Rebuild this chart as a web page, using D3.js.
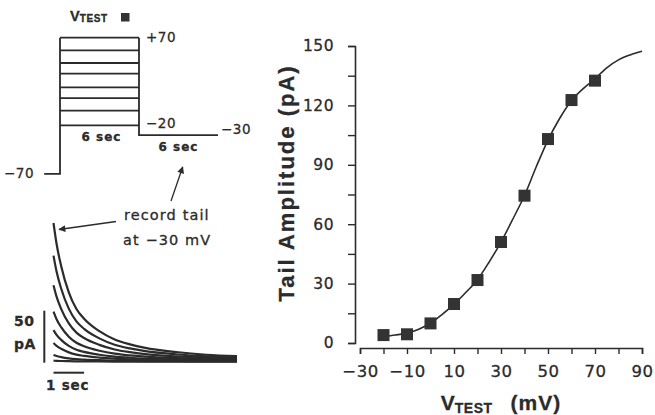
<!DOCTYPE html>
<html>
<head>
<meta charset="utf-8">
<script src="https://cdn.jsdelivr.net/npm/d3@7"></script>
<style>
  html, body { margin: 0; padding: 0; background: #fff; }
  svg { display: block; }
  text { font-family: "DejaVu Sans", "Liberation Sans", sans-serif; fill: #2b2b2b; stroke: #2b2b2b; stroke-width: 0.3px; }
</style>
</head>
<body>
<svg id="fig" width="655" height="415"></svg>
<script>
// ---- Activation curve: tail amplitude vs test potential ----
const testPotentials = [-20, -10, 0, 10, 20, 30, 40, 50, 60, 70];          // mV
const tailAmplitudes = [4.0, 4.4, 9.9, 19.7, 31.8, 51, 74.4, 103, 122.7, 132.5]; // pA

// Fitted Boltzmann curve, sampled along the test-potential axis
const fitPotentials = [-20, -15, -10, -5, 0, 5, 10, 15, 20, 25, 30, 35, 40, 45, 50, 55, 60, 65, 70, 75, 80, 85, 90];
const fitAmplitudes = [3.2, 4.0, 5.0, 7.0, 10, 14.5, 19.5, 25.5, 32, 41, 51, 62.5, 74.5, 89, 102.5, 113.5, 122.5, 128.5, 133.5, 139, 143, 145.5, 147.3];

const xTicks = [-30, -20, -10, 0, 10, 20, 30, 40, 50, 60, 70, 80, 90];
const xTickLabels = [-30, -10, 10, 30, 50, 70, 90];
const yTicks = [0, 15, 30, 45, 60, 75, 90, 105, 120, 135, 150];
const yTickLabels = [0, 30, 60, 90, 120, 150];

// ---- Voltage protocol ----
const holdingPotential = -70;   // mV
const stepLevels = [70, 57, 44, 33, 19, 8, -5, -20]; // mV, test steps drawn
const tailPotential = -30;      // mV
const stepDuration = 6;         // sec
const tailDuration = 6;         // sec

// ---- Tail current records at -30 mV ----
const traceAmplitudes = [136, 104, 75, 49, 31, 18.3, 6.6, 1]; // pA, peak of each tail
const decayTimes = [0, 0.1, 0.25, 0.5, 0.75, 1, 1.5, 2, 2.5, 3, 4, 5, 6];  // sec
const decayFraction = [1, 0.85, 0.69, 0.5, 0.38, 0.31, 0.22, 0.16, 0.125, 0.1, 0.07, 0.05, 0.04];

const ink = "#2b2b2b";
const svg = d3.select("#fig");

// ===================== Right panel =====================
const x = d3.scaleLinear().domain([-30, 90]).range([360, 642]);
const y = d3.scaleLinear().domain([0, 150]).range([343, 46]);

const xAxis = d3.axisBottom(x)
  .tickValues(xTicks)
  .tickSize(6)
  .tickPadding(11)
  .tickFormat(d => xTickLabels.includes(d) ? (d < 0 ? "\u2212" + Math.abs(d) : d) : "");
const gx = svg.append("g").attr("transform", "translate(0,348)").call(xAxis);

const yAxis = d3.axisLeft(y)
  .tickValues(yTicks)
  .tickSize(7)
  .tickPadding(14)
  .tickFormat(d => yTickLabels.includes(d) ? d : "");
const gy = svg.append("g").attr("transform", "translate(355,0)").call(yAxis);

[gx, gy].forEach(g => {
  g.select(".domain").attr("stroke", ink).attr("stroke-width", 1.6);
  g.selectAll(".tick line").attr("stroke", ink).attr("stroke-width", 1.4);
  g.selectAll(".tick text")
    .attr("fill", ink)
    .style("font-family", "'DejaVu Sans', sans-serif")
    .style("letter-spacing", "0.5px");
});
gx.selectAll(".tick text").style("font-size", "16.5px");
gy.selectAll(".tick text").style("font-size", "15.5px");

// fitted curve
svg.append("path")
  .datum(fitPotentials.map((v, i) => [v, fitAmplitudes[i]]))
  .attr("fill", "none")
  .attr("stroke", ink)
  .attr("stroke-width", 1.6)
  .attr("d", d3.line().x(d => x(d[0])).y(d => y(d[1])).curve(d3.curveMonotoneX));

// data squares
const sq = 12;
svg.append("g").selectAll("rect")
  .data(testPotentials.map((v, i) => [v, tailAmplitudes[i]]))
  .join("rect")
  .attr("x", d => x(d[0]) - sq / 2)
  .attr("y", d => y(d[1]) - sq / 2)
  .attr("width", sq)
  .attr("height", sq)
  .attr("fill", "#333");

// axis titles
svg.append("text")
  .attr("transform", "translate(288,183) rotate(-90)")
  .attr("text-anchor", "middle")
  .attr("dominant-baseline", "middle")
  .style("font-family", "'Liberation Sans', Arial, sans-serif")
  .style("font-weight", "bold")
  .style("font-size", "22px")
  .style("letter-spacing", "2px")
  .text("Tail Amplitude (pA)");

const xt = svg.append("text")
  .attr("x", 501).attr("y", 410)
  .attr("text-anchor", "middle")
  .style("font-family", "'Liberation Sans', Arial, sans-serif")
  .style("font-weight", "bold")
  .style("font-size", "21px");
xt.append("tspan").text("V");
xt.append("tspan").attr("dy", 3).style("font-size", "14px").style("letter-spacing", "0.5px").text("TEST");
xt.append("tspan").attr("dy", -3).attr("dx", 18).style("letter-spacing", "1px").text("(mV)");

// ===================== Left panel: protocol =====================
const pv = d3.scaleLinear().domain([-20, 70]).range([125.3, 37.7]);
const pt = d3.scaleLinear().domain([0, stepDuration + tailDuration]).range([60, 218]);

const pg = svg.append("g").attr("stroke", ink).attr("fill", "none");
// holding segment and rising edge
pg.append("path").attr("stroke-width", 1.8)
  .attr("d", d3.line()([[pt(-1.2), pv(holdingPotential)], [pt(0), pv(holdingPotential)], [pt(0), pv(d3.max(stepLevels))]]));
// test steps
pg.selectAll("line.step")
  .data(stepLevels)
  .join("line")
  .attr("class", "step")
  .attr("stroke-width", 1.8)
  .attr("x1", pt(0)).attr("x2", pt(stepDuration))
  .attr("y1", d => pv(d)).attr("y2", d => pv(d));
// falling edge and tail segment
pg.append("path").attr("stroke-width", 1.8)
  .attr("d", d3.line()([[pt(stepDuration), pv(d3.max(stepLevels))], [pt(stepDuration), pv(tailPotential)], [pt(stepDuration + tailDuration), pv(tailPotential)]]));

const lab = (txt, xx, yy, size, anchor) => svg.append("text")
  .attr("x", xx).attr("y", yy)
  .attr("text-anchor", anchor || "start")
  .attr("dominant-baseline", "middle")
  .style("font-size", size + "px")
  .style("letter-spacing", "0.5px")
  .text(txt);

lab("+70", 146, pv(70), 13.5);
lab("\u221220", 146, pv(-20) - 1, 13.5);
lab("\u221230", pt(stepDuration + tailDuration) + 3, pv(tailPotential) - 5, 13.5);
lab("\u221270", 34, pv(holdingPotential), 13.5, "end");
lab("6 sec", (pt(0) + pt(stepDuration)) / 2 + 2, 137, 12, "middle").style("font-weight", "bold").style("letter-spacing", "1px");
lab("6 sec", (pt(stepDuration) + pt(stepDuration + tailDuration)) / 2, 147, 12, "middle").style("font-weight", "bold").style("letter-spacing", "1px");

// V_TEST key
const vk = svg.append("text").attr("x", 70).attr("y", 21)
  .style("font-family", "'Liberation Sans', Arial, sans-serif")
  .style("font-weight", "bold")
  .style("font-size", "14.5px");
vk.append("tspan").text("V");
vk.append("tspan").attr("dy", 1).style("font-size", "10px").style("letter-spacing", "0.6px").text("TEST");
svg.append("rect").attr("x", 121).attr("y", 13).attr("width", 8.5).attr("height", 8.5).attr("fill", "#333");

// arrowheads
const defs = svg.append("defs");
defs.append("marker")
  .attr("id", "head")
  .attr("viewBox", "0 0 10 10")
  .attr("refX", 9).attr("refY", 5)
  .attr("markerWidth", 9).attr("markerHeight", 7)
  .attr("markerUnits", "userSpaceOnUse")
  .attr("orient", "auto")
  .append("path").attr("d", "M0,0 L10,5 L0,10 Z").attr("fill", ink);

svg.append("line")
  .attr("x1", 171).attr("y1", 201).attr("x2", 182.7).attr("y2", 167)
  .attr("stroke", ink).attr("stroke-width", 1.3)
  .attr("marker-end", "url(#head)");
svg.append("line")
  .attr("x1", 116).attr("y1", 221.5).attr("x2", 59).attr("y2", 229.5)
  .attr("stroke", ink).attr("stroke-width", 1.5)
  .attr("marker-end", "url(#head)");

lab("record tail", 124, 216, 14.5).style("letter-spacing", "1.1px");
lab("at \u221230 mV", 123, 241, 14.5).style("letter-spacing", "1.1px");

// ===================== Left panel: tail currents =====================
const tt = d3.scaleLinear().domain([0, tailDuration]).range([53.5, 237]);
const ta = d3.scaleLinear().domain([0, 50]).range([361.7, 310.7]);

const traceLine = d3.line().x(d => tt(d[0])).y(d => ta(d[1])).curve(d3.curveMonotoneX);
svg.append("g").selectAll("path")
  .data(traceAmplitudes)
  .join("path")
  .attr("fill", "none")
  .attr("stroke", ink)
  .attr("stroke-width", 2.2)
  .attr("d", a => traceLine(decayTimes.map((t, i) => [t, a * decayFraction[i]])));

// scale bars
svg.append("line")
  .attr("x1", 44.3).attr("x2", 44.3).attr("y1", ta(50)).attr("y2", ta(0) + 1)
  .attr("stroke", ink).attr("stroke-width", 2);
svg.append("line")
  .attr("x1", tt(0)).attr("x2", tt(1)).attr("y1", 372.7).attr("y2", 372.7)
  .attr("stroke", ink).attr("stroke-width", 2);
lab("50", 14, 322, 14).style("font-weight", "bold");
lab("pA", 14, 345, 14).style("font-weight", "bold");
lab("1 sec", 46, 386, 13.5).style("font-weight", "bold").style("letter-spacing", "0.8px");
</script>
</body>
</html>
